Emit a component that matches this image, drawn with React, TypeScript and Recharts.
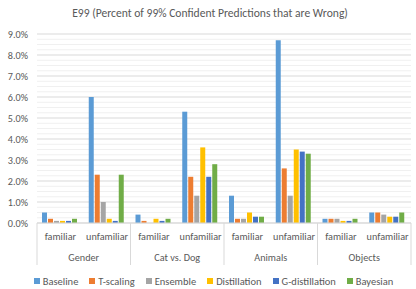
import React from 'react';
import { BarChart, Bar, XAxis, YAxis, CartesianGrid, Legend } from 'recharts';

const groups = ['Gender', 'Gender', 'Cat vs. Dog', 'Cat vs. Dog', 'Animals', 'Animals', 'Objects', 'Objects'];
const subs = ['familiar', 'unfamiliar', 'familiar', 'unfamiliar', 'familiar', 'unfamiliar', 'familiar', 'unfamiliar'];

const baseline = [0.5, 6.0, 0.4, 5.3, 1.3, 8.7, 0.2, 0.5];
const tScaling = [0.2, 2.3, 0.1, 2.2, 0.2, 2.6, 0.2, 0.5];
const ensemble = [0.1, 1.0, 0.0, 1.3, 0.2, 1.3, 0.2, 0.4];
const distillation = [0.1, 0.2, 0.2, 3.6, 0.5, 3.5, 0.1, 0.3];
const gDistillation = [0.1, 0.1, 0.1, 2.2, 0.3, 3.4, 0.1, 0.3];
const bayesian = [0.2, 2.3, 0.2, 2.8, 0.3, 3.3, 0.2, 0.5];

const yTicks = [0, 1, 2, 3, 4, 5, 6, 7, 8, 9];
const minorTicks = [0.25, 0.5, 0.75, 1.25, 1.5, 1.75, 2.25, 2.5, 2.75, 3.25, 3.5, 3.75, 4.25, 4.5, 4.75, 5.25, 5.5, 5.75, 6.25, 6.5, 6.75, 7.25, 7.5, 7.75, 8.25, 8.5, 8.75];

const seriesNames = ['Baseline', 'T-scaling', 'Ensemble', 'Distillation', 'G-distillation', 'Bayesian'];
const seriesKeys = ['baseline', 'tScaling', 'ensemble', 'distillation', 'gDistillation', 'bayesian'];
const seriesColors = ['#5B9BD5', '#ED7D31', '#A5A5A5', '#FFC000', '#4472C4', '#70AD47'];

const data = subs.map((s, i) => ({
  sub: s,
  group: groups[i],
  baseline: baseline[i],
  tScaling: tScaling[i],
  ensemble: ensemble[i],
  distillation: distillation[i],
  gDistillation: gDistillation[i],
  bayesian: bayesian[i],
}));

const FONT = 'Carlito, Lato, "Liberation Sans", sans-serif';
const TEXT = '#595959';

const CatTick = (props: any) => {
  const { x, y, payload, index, width, visibleTicksCount } = props;
  const count = visibleTicksCount || data.length;
  const band = typeof width === 'number' && width > 0 ? width / count : 374 / 8;
  const row = data[index];
  return (
    <g>
      <text x={x} y={y + 17} textAnchor="middle" fill={TEXT} fontSize={10.2} fontFamily={FONT}>
        {payload.value}
      </text>
      {index % 2 === 0 && (
        <g>
          <line x1={x - band / 2} x2={x - band / 2} y1={y} y2={y + 42} stroke="#D9D9D9" />
          <text x={x + band / 2} y={y + 38} textAnchor="middle" fill={TEXT} fontSize={10.2} fontFamily={FONT}>
            {row ? row.group : ''}
          </text>
        </g>
      )}
      {index === count - 1 && (
        <line x1={x + band / 2} x2={x + band / 2} y1={y} y2={y + 42} stroke="#D9D9D9" />
      )}
    </g>
  );
};

const LegendContent = () => (
  <div style={{ display: 'flex', justifyContent: 'center', alignItems: 'center', height: 16, fontSize: 10.5, fontFamily: FONT, color: TEXT }}>
    {seriesNames.map((n, i) => (
      <div key={n} style={{ display: 'flex', alignItems: 'center', marginRight: i < seriesNames.length - 1 ? 11 : 0 }}>
        <span style={{ display: 'inline-block', width: 6, height: 6, background: seriesColors[i], marginRight: 3 }} />
        <span>{n}</span>
      </div>
    ))}
  </div>
);

export default function App() {
  return (
    <div style={{ position: 'absolute', left: 0, top: 0, width: 416, height: 289, background: '#fff', fontFamily: FONT }}>
      <div
        style={{
          position: 'absolute',
          left: 0,
          top: 6,
          width: 420,
          textAlign: 'center',
          fontSize: 11.6,
          color: TEXT,
          fontFamily: FONT,
        }}
      >
        E99 (Percent of 99% Confident Predictions that are Wrong)
      </div>
      <BarChart
        width={416}
        height={289}
        data={data}
        margin={{ top: 34, right: 5, left: 0, bottom: 0 }}
        barCategoryGap={5}
        barGap={1}
      >
        <CartesianGrid vertical={false} stroke="#F0F0F0" horizontalValues={minorTicks} />
        <CartesianGrid vertical={false} stroke="#D9D9D9" />
        <XAxis
          dataKey="sub"
          height={50}
          axisLine={{ stroke: '#D9D9D9' }}
          tickLine={false}
          tickSize={0}
          tickMargin={0}
          interval={0}
          tick={<CatTick />}
        />
        <YAxis
          width={37}
          domain={[0, 9]}
          ticks={yTicks}
          interval={0}
          axisLine={false}
          tickLine={false}
          tickSize={0}
          tickMargin={9}
          tickFormatter={(v: number) => `${v.toFixed(1)}%`}
          tick={{ fill: TEXT, fontSize: 10.2, fontFamily: FONT }}
        />
        {seriesKeys.map((k, i) => (
          <Bar key={k} dataKey={k} name={seriesNames[i]} fill={seriesColors[i]} isAnimationActive={false} />
        ))}
        <Legend
          verticalAlign="bottom"
          content={<LegendContent />}
          wrapperStyle={{ height: 16, left: 8 }}
        />
      </BarChart>
    </div>
  );
}
